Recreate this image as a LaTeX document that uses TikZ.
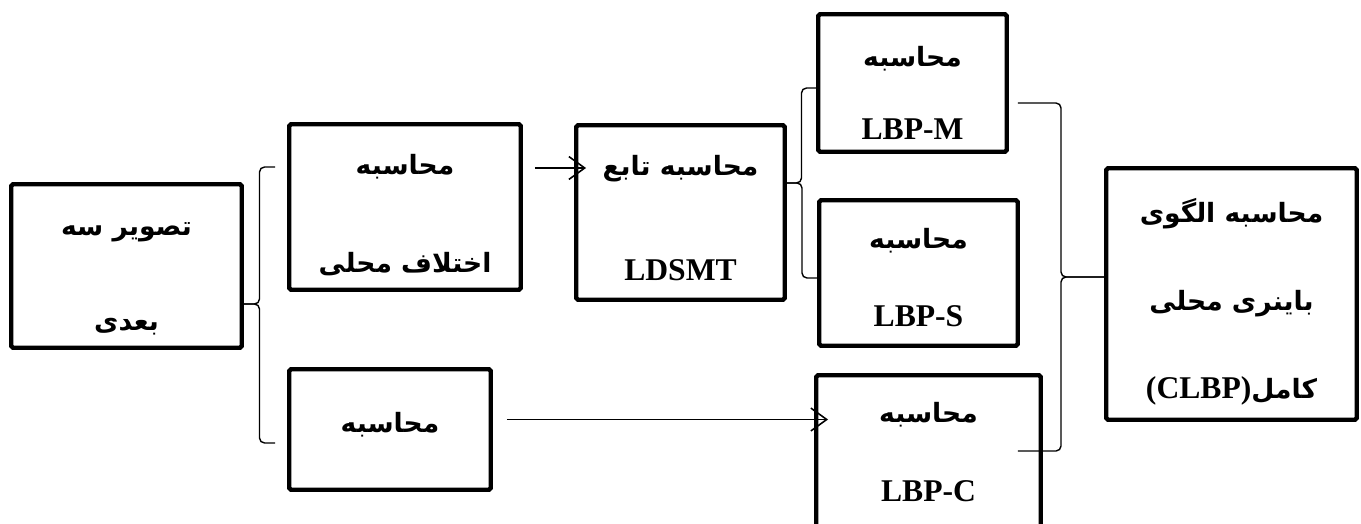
\documentclass[tikz,border=0pt]{standalone}
\usepackage{fontspec}
\setmainfont{Liberation Serif}
\newfontfamily\fa[Script=Arabic, Scale=0.84]{DejaVu Sans}
\newfontfamily\lat{Liberation Serif}
\TeXXeTstate=1
\usetikzlibrary{arrows.meta, calc}

\newcommand{\fatext}[1]{{\fa\beginR #1\endR}}
% brace from a tip to two free ends
\newcommand{\bracelink}[3]{%
  \draw[bracket] let \p1=(#1), \p2=(#2) in
    (\p2) -- ({(\x1+\x2)/2},\y2) -- ({(\x1+\x2)/2},\y1) -- (\p1);
  \draw[bracket] let \p1=(#1), \p3=(#3) in
    (\p1) -- ({(\x1+\x3)/2},\y1) -- ({(\x1+\x3)/2},\y3) -- (\p3);
}

\begin{document}
\begin{tikzpicture}[
  x=0.2mm, y=-0.2mm,
  box/.style={
    draw,
    line width=2.5pt,
    rounded corners=1pt,
    inner sep=0pt
  },
  txt/.style={align=center, inner sep=0pt},
  lead/.style={font=\bfseries\fontsize{18}{#1}\selectfont},
  arrow/.style={-{Straight Barb[length=9pt,width=13pt]}, line width=0.9pt},
  bracket/.style={line width=0.8pt, rounded corners=0.1cm}
]
\path[use as bounding box] (0,0) rectangle (1361,523);
\clip (0,0) rectangle (1361,523);

\node[box, minimum width=4.61cm, minimum height=3.27cm] (img3d) at (126.5,266) {};
\node[box, minimum width=4.63cm, minimum height=3.31cm] (diff) at (405,207) {};
\node[box, minimum width=4.03cm, minimum height=2.41cm] (calc) at (390,429.5) {};
\node[box, minimum width=4.17cm, minimum height=3.49cm] (ldsmt) at (680.5,212.5) {};
\node[box, minimum width=3.77cm, minimum height=2.75cm] (lbpm) at (912.5,83) {};
\node[box, minimum width=3.97cm, minimum height=2.91cm] (lbps) at (918.5,273) {};
\node[box, minimum width=4.49cm, minimum height=3.15cm] (lbpc) at (928.5,454) {};
\node[box, minimum width=5.01cm, minimum height=5.03cm] (clbp) at (1231.5,294) {};

% box texts
\node[txt, lead=54pt] (img3dTxt) at ([yshift=-0.25cm]img3d.center)
  {\fatext{تصویر سه}\\\fatext{بعدی}};
\node[txt, lead=56pt] (diffTxt) at ([yshift=-0.16cm]diff.center)
  {\fatext{محاسبه}\\\fatext{اختلاف محلی}};
\node[txt, lead=50pt] (calcTxt) at ([yshift=0.1cm]calc.center)
  {\fatext{محاسبه}};
\node[txt, lead=60pt] (ldsmtTxt) at ([yshift=-0.11cm]ldsmt.center)
  {\fatext{محاسبه تابع}\\LDSMT};
\node[txt, lead=42pt] (lbpmTxt) at ([yshift=-0.2cm]lbpm.center)
  {\fatext{محاسبه}\\LBP-M};
\node[txt, lead=44pt] (lbpsTxt) at ([yshift=-0.09cm]lbps.center)
  {\fatext{محاسبه}\\LBP-S};
\node[txt, lead=45pt] (lbpcTxt) at ([yshift=0.04cm]lbpc.center)
  {\fatext{محاسبه}\\LBP-C};
\node[txt, lead=50pt] (clbpTxt) at ([yshift=-0.16cm]clbp.center)
  {\fatext{محاسبه الگوی}\\\fatext{باینری محلی}\\{\fa\beginR کامل\beginL{\lat\bfseries(CLBP)}\endL\endR}};

% brace points
\coordinate (b1tip) at ([yshift=-0.76cm]img3d.east);
\coordinate (b1top) at ([xshift=-0.24cm, yshift=0.8cm]diff.west);
\coordinate (b1bot) at ([xshift=-0.24cm, yshift=-0.27cm]calc.west);
\coordinate (b2tip) at ([yshift=0.59cm]ldsmt.east);
\coordinate (b2top) at ([yshift=-0.1cm]lbpm.west);
\coordinate (b2bot) at ([yshift=-0.1cm]lbps.west);
\coordinate (b3tip) at ([yshift=0.34cm]clbp.west);
\coordinate (b3top) at ([xshift=0.18cm, yshift=-0.4cm]lbpm.east);
\coordinate (b3bot) at ([xshift=-0.5cm, yshift=0.06cm]lbpc.east);

\bracelink{b1tip}{b1top}{b1bot}
\bracelink{b2tip}{b2top}{b2bot}
\bracelink{b3tip}{b3top}{b3bot}

\draw[arrow] ([xshift=0.24cm, yshift=0.78cm]diff.east) -- ([xshift=0.24cm, yshift=0.78cm]diff.east -| ldsmt.west);
\draw[arrow] ([xshift=0.28cm, yshift=0.2cm]calc.east) -- ([xshift=0.28cm, yshift=0.2cm]calc.east -| lbpc.west);

\end{tikzpicture}
\end{document}
